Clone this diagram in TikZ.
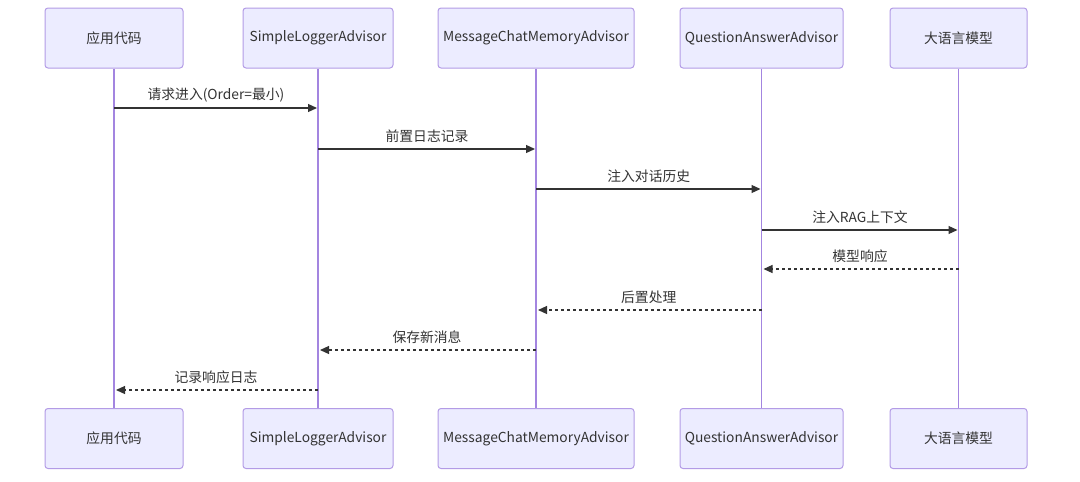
\documentclass[tikz,border=0pt]{standalone}
\usepackage{fontspec}
\setmainfont{Noto Sans CJK SC}
\usetikzlibrary{arrows.meta,calc}
\definecolor{boxfill}{HTML}{ECECFF}
\definecolor{boxline}{HTML}{9370DB}
\definecolor{txt}{HTML}{333333}
\tikzset{
  actor/.style={draw=boxline!70, fill=boxfill, line width=1pt, rounded corners=3pt, minimum height=60pt, text=txt, font=\fontsize{13.8}{16}\selectfont, inner sep=0pt},
  life/.style={draw=boxline!85, line width=1.5pt},
  msg/.style={draw=txt, line width=1.2pt, -{Triangle[length=9pt,width=8pt]}},
  ret/.style={msg, dash pattern=on 3pt off 3pt},
  lbl/.style={text=txt, font=\fontsize{13.8}{16}\selectfont, inner sep=0pt}
}
\begin{document}
\begin{tikzpicture}[x=1pt,y=-1pt]
\useasboundingbox (0,0) rectangle (1080,482);
% top actors
\node[actor, minimum width=138pt] (a1) at (114,38) {应用代码};
\node[actor, minimum width=150pt] (a2) at (318,38) {SimpleLoggerAdvisor};
\node[actor, minimum width=196pt] (a3) at (536,38) {MessageChatMemoryAdvisor};
\node[actor, minimum width=163pt] (a4) at (761.5,38) {QuestionAnswerAdvisor};
\node[actor, minimum width=137pt] (a5) at (958.5,38) {大语言模型};
% bottom actors
\node[actor, minimum width=138pt] (b1) at (114,438.5) {应用代码};
\node[actor, minimum width=150pt] (b2) at (318,438.5) {SimpleLoggerAdvisor};
\node[actor, minimum width=196pt] (b3) at (536,438.5) {MessageChatMemoryAdvisor};
\node[actor, minimum width=163pt] (b4) at (761.5,438.5) {QuestionAnswerAdvisor};
\node[actor, minimum width=137pt] (b5) at (958.5,438.5) {大语言模型};
% lifelines
\foreach \i in {1,...,5}{
  \draw[life] (a\i.south) -- (b\i.north);
}
% messages
\coordinate (m1s) at (a1.south |- 0,108); \coordinate (m1e) at (a2.south |- 0,108);
\coordinate (m2s) at (a2.south |- 0,149); \coordinate (m2e) at (a3.south |- 0,149);
\coordinate (m3s) at (a3.south |- 0,189); \coordinate (m3e) at (a4.south |- 0,189);
\coordinate (m4s) at (a4.south |- 0,230); \coordinate (m4e) at (a5.south |- 0,230);
\coordinate (m5s) at (a5.south |- 0,269); \coordinate (m5e) at (a4.south |- 0,269);
\coordinate (m6s) at (a4.south |- 0,310); \coordinate (m6e) at (a3.south |- 0,310);
\coordinate (m7s) at (a3.south |- 0,350); \coordinate (m7e) at (a2.south |- 0,350);
\coordinate (m8s) at (a2.south |- 0,390); \coordinate (m8e) at (a1.south |- 0,390);

\draw[msg] (m1s) -- ([xshift=-1pt]m1e);
\draw[msg] (m2s) -- ([xshift=-1pt]m2e);
\draw[msg] (m3s) -- ([xshift=-1pt]m3e);
\draw[msg] (m4s) -- ([xshift=-1pt]m4e);
\draw[ret] (m5s) -- ([xshift=2pt]m5e);
\draw[ret] (m6s) -- ([xshift=2pt]m6e);
\draw[ret] (m7s) -- ([xshift=2pt]m7e);
\draw[ret] (m8s) -- ([xshift=2pt]m8e);

\node[lbl] (l1) at ($(m1s)!0.5!(m1e)+(0,-13)$) {请求进入(Order=最小)};
\node[lbl] (l2) at ($(m2s)!0.5!(m2e)+(0,-13)$) {前置日志记录};
\node[lbl] (l3) at ($(m3s)!0.5!(m3e)+(0,-13)$) {注入对话历史};
\node[lbl] (l4) at ($(m4s)!0.5!(m4e)+(0,-13)$) {注入RAG上下文};
\node[lbl] (l5) at ($(m5s)!0.5!(m5e)+(0,-13)$) {模型响应};
\node[lbl] (l6) at ($(m6s)!0.5!(m6e)+(0,-13)$) {后置处理};
\node[lbl] (l7) at ($(m7s)!0.5!(m7e)+(0,-13)$) {保存新消息};
\node[lbl] (l8) at ($(m8s)!0.5!(m8e)+(0,-13)$) {记录响应日志};
\end{tikzpicture}
\end{document}
